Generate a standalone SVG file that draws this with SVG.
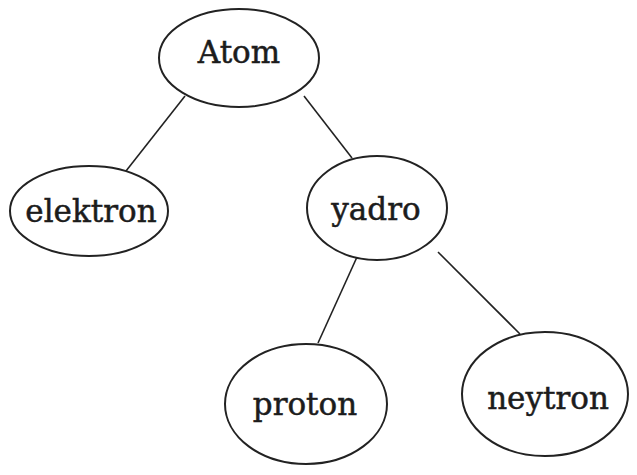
<svg xmlns="http://www.w3.org/2000/svg" width="637" height="475" viewBox="0 0 637 475">
<style>
.node ellipse{fill:#fff;stroke:#222;stroke-width:2}
.node text{font-family:"DejaVu Serif","Liberation Serif",serif;font-size:31px;fill:#1c1c1c;stroke:#1c1c1c;stroke-width:0.5;text-anchor:middle}
.edges line{stroke:#222;stroke-width:1.6}
</style>
<rect width="637" height="475" fill="#fff"/>
<g id="edges" class="edges">
<line x1="185" y1="96" x2="126" y2="171"/>
<line x1="304" y1="96" x2="352" y2="158"/>
<line x1="357" y1="257" x2="318" y2="343"/>
<line x1="438" y1="252" x2="520" y2="334"/>
</g>
<g id="atom" class="node">
<ellipse cx="239" cy="58" rx="80" ry="49"/>
<text x="239" y="63">Atom</text>
</g>
<g id="elektron" class="node">
<ellipse cx="89" cy="211" rx="79" ry="45"/>
<text x="91" y="222">elektron</text>
</g>
<g id="yadro" class="node">
<ellipse cx="377" cy="208" rx="70" ry="52"/>
<text x="376" y="220">yadro</text>
</g>
<g id="proton" class="node">
<ellipse cx="306" cy="404" rx="81" ry="60"/>
<text x="305" y="415">proton</text>
</g>
<g id="neytron" class="node">
<ellipse cx="545" cy="394" rx="83" ry="62"/>
<text x="548" y="409">neytron</text>
</g>
</svg>
